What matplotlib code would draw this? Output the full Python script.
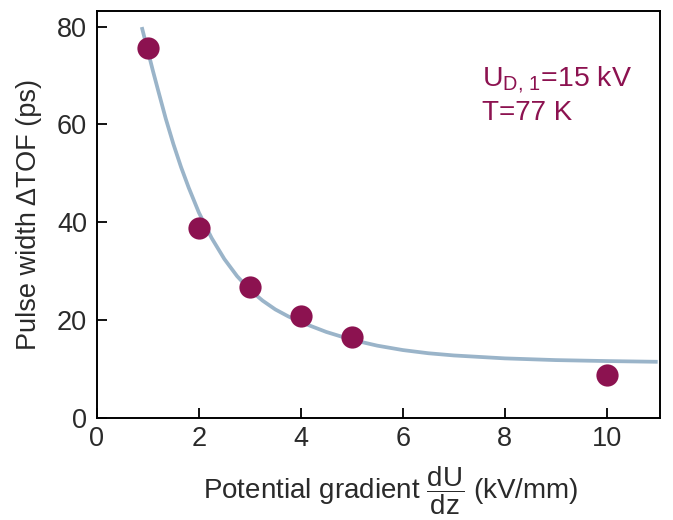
import matplotlib
matplotlib.use("Agg")
import matplotlib.pyplot as plt

# measured data
gradient = [1, 2, 3, 4, 5, 10]
pulse_width = [75.7, 38.9, 26.8, 20.9, 16.6, 8.8]

# fit curve
curve_x = [0.88, 1.0, 1.1, 1.2, 1.35, 1.5, 1.65, 1.8, 2.0, 2.25, 2.5, 2.75, 3.0, 3.25,
           3.5, 3.75, 4.0, 4.5, 5.0, 5.5, 6.0, 6.5, 7.0, 8.0, 9.0, 10.0, 11.0]
curve_y = [79.9, 75.0, 70.9, 67.0, 61.2, 56.0, 51.3, 47.1, 42.0, 36.8, 32.5, 29.0, 26.2, 24.0,
           22.2, 20.8, 19.6, 17.6, 16.0, 14.8, 13.9, 13.25, 12.8, 12.2, 11.85, 11.65, 11.5]

xticks = [0, 2, 4, 6, 8, 10]
yticks = [0, 20, 40, 60, 80]

plt.rcParams['font.family'] = ['Liberation Sans', 'DejaVu Sans']
plt.rcParams['mathtext.fontset'] = 'custom'
plt.rcParams['mathtext.rm'] = 'Liberation Sans'
plt.rcParams['mathtext.it'] = 'Liberation Sans:italic'
plt.rcParams['mathtext.bf'] = 'Liberation Sans:bold'

text_color = '#2a2a2a'
dot_color = '#8c1250'
line_color = '#9ab4c9'

fig = plt.figure(figsize=(6.73, 5.2), dpi=100)
ax = fig.add_axes([0.144, 0.196, 0.837, 0.783])

ax.plot(curve_x, curve_y, color=line_color, lw=2.7, zorder=2, solid_capstyle='butt')
ax.plot(gradient, pulse_width, 'o', color=dot_color, markersize=16, zorder=3, markeredgewidth=0)

ax.set_xlim(0, 11.05)
ax.set_ylim(0, 83.2)
ax.set_xticks(xticks)
ax.set_yticks(yticks)
ax.tick_params(direction='in', length=7, width=1.3, labelsize=19.5, colors='black',
               labelcolor=text_color, top=False, right=False)
ax.tick_params(axis='x', pad=6)
ax.tick_params(axis='y', pad=7)
for s in ax.spines.values():
    s.set_linewidth(1.4)

ax.set_xlabel(r'Potential gradient $\dfrac{\mathrm{dU}}{\mathrm{dz}}$ (kV/mm)', fontsize=20,
              color=text_color)
ax.xaxis.set_label_coords(0.522, -0.178, transform=ax.transAxes)
ax.xaxis.label.set_va('center')
ax.set_ylabel('Pulse width ΔTOF (ps)', fontsize=19.5, color=text_color, labelpad=11)

ax.text(0.684, 0.83, r'U$_{\mathrm{D,\,1}}$=15 kV', transform=ax.transAxes, fontsize=20.5,
        color=dot_color, va='center', ha='left')
ax.text(0.684, 0.75, 'T=77 K', transform=ax.transAxes, fontsize=20,
        color=dot_color, va='center', ha='left')

fig.savefig('out.png', dpi=100)
